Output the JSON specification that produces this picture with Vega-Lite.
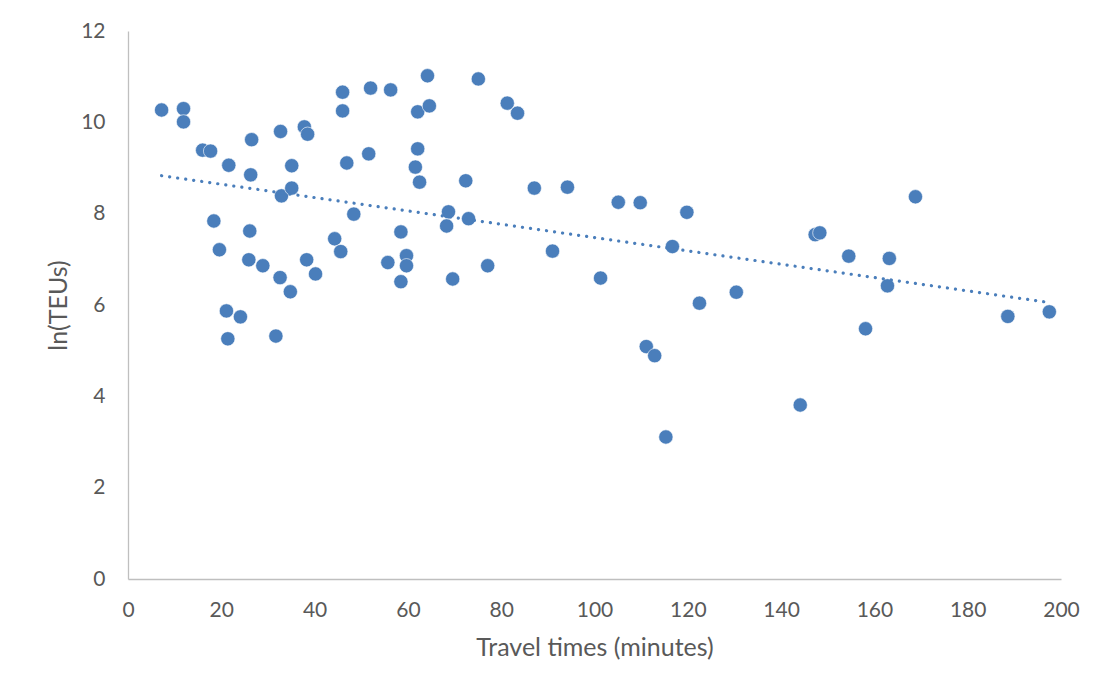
{
  "$schema": "https://vega.github.io/schema/vega-lite/v6.json",
  "width": 933,
  "height": 548,
  "autosize": {"type": "none"},
  "padding": {"left": 128, "top": 31, "right": 42, "bottom": 121},
  "background": "white",
  "config": {
    "view": {"stroke": null},
    "font": "Lato",
    "axis": {"grid": false, "domainColor": "#bfbfbf", "domainWidth": 1.3, "ticks": false, "labelFlush": false, "labelColor": "#595959", "titleColor": "#595959", "labelFontSize": 21, "titleFontSize": 25, "titleFontWeight": "normal", "labelFont": "Lato", "titleFont": "Lato"}
  },
  "data": {"values": [
    {"t": 7.2, "v": 10.27}, {"t": 11.9, "v": 10.3}, {"t": 11.9, "v": 10.01}, {"t": 16.0, "v": 9.39},
    {"t": 17.7, "v": 9.37}, {"t": 21.6, "v": 9.06}, {"t": 26.5, "v": 9.62}, {"t": 26.3, "v": 8.85},
    {"t": 32.7, "v": 9.8}, {"t": 32.9, "v": 8.39}, {"t": 35.1, "v": 8.56}, {"t": 37.8, "v": 9.9},
    {"t": 38.5, "v": 9.74}, {"t": 35.1, "v": 9.05}, {"t": 18.4, "v": 7.84}, {"t": 19.6, "v": 7.21},
    {"t": 26.1, "v": 7.62}, {"t": 25.9, "v": 6.99}, {"t": 28.9, "v": 6.86}, {"t": 32.6, "v": 6.6},
    {"t": 34.8, "v": 6.29}, {"t": 21.1, "v": 5.87}, {"t": 24.1, "v": 5.74}, {"t": 21.4, "v": 5.26},
    {"t": 31.7, "v": 5.32}, {"t": 46.0, "v": 10.66}, {"t": 46.0, "v": 10.25}, {"t": 52.0, "v": 10.75},
    {"t": 56.3, "v": 10.71}, {"t": 64.2, "v": 11.02}, {"t": 62.1, "v": 10.23}, {"t": 64.6, "v": 10.36},
    {"t": 75.1, "v": 10.95}, {"t": 81.3, "v": 10.42}, {"t": 83.5, "v": 10.2}, {"t": 46.9, "v": 9.11},
    {"t": 51.6, "v": 9.31}, {"t": 62.1, "v": 9.42}, {"t": 61.6, "v": 9.02}, {"t": 62.5, "v": 8.69},
    {"t": 72.4, "v": 8.72}, {"t": 87.1, "v": 8.56}, {"t": 94.2, "v": 8.58}, {"t": 48.4, "v": 7.99},
    {"t": 68.7, "v": 8.04}, {"t": 68.3, "v": 7.73}, {"t": 73.0, "v": 7.89}, {"t": 44.3, "v": 7.45},
    {"t": 45.6, "v": 7.17}, {"t": 38.3, "v": 6.99}, {"t": 40.2, "v": 6.68}, {"t": 58.5, "v": 7.6},
    {"t": 55.7, "v": 6.93}, {"t": 59.7, "v": 7.08}, {"t": 59.7, "v": 6.86}, {"t": 58.5, "v": 6.51},
    {"t": 69.6, "v": 6.57}, {"t": 77.1, "v": 6.86}, {"t": 105.1, "v": 8.25}, {"t": 109.8, "v": 8.24},
    {"t": 119.8, "v": 8.03}, {"t": 147.3, "v": 7.54}, {"t": 148.3, "v": 7.58}, {"t": 91.0, "v": 7.18},
    {"t": 116.7, "v": 7.28}, {"t": 101.3, "v": 6.59}, {"t": 130.4, "v": 6.28}, {"t": 122.5, "v": 6.04},
    {"t": 111.1, "v": 5.09}, {"t": 112.9, "v": 4.89}, {"t": 144.1, "v": 3.81}, {"t": 115.3, "v": 3.11},
    {"t": 168.8, "v": 8.37}, {"t": 154.5, "v": 7.07}, {"t": 163.2, "v": 7.02}, {"t": 162.8, "v": 6.42},
    {"t": 158.1, "v": 5.48}, {"t": 188.6, "v": 5.75}, {"t": 197.5, "v": 5.85}
  ]},
  "encoding": {
    "x": {"field": "t", "type": "quantitative", "title": "Travel times (minutes)",
      "scale": {"domain": [0, 200], "nice": false, "zero": true},
      "axis": {"values": [0, 20, 40, 60, 80, 100, 120, 140, 160, 180, 200], "labelPadding": 20, "titlePadding": 15}},
    "y": {"field": "v", "type": "quantitative", "title": "ln(TEUs)",
      "scale": {"domain": [0, 12], "nice": false},
      "axis": {"values": [0, 2, 4, 6, 8, 10, 12], "labelPadding": 23, "titlePadding": 9}}
  },
  "layer": [
    {
      "mark": {"type": "circle", "size": 205, "color": "#4A7EBB", "opacity": 1, "stroke": "#ffffff", "strokeWidth": 0.6}
    },
    {
      "transform": [{"regression": "v", "on": "t"}],
      "mark": {"type": "line", "color": "#4A7EBB", "strokeWidth": 3.2, "strokeDash": [0.1, 8], "strokeCap": "round"}
    }
  ]
}
